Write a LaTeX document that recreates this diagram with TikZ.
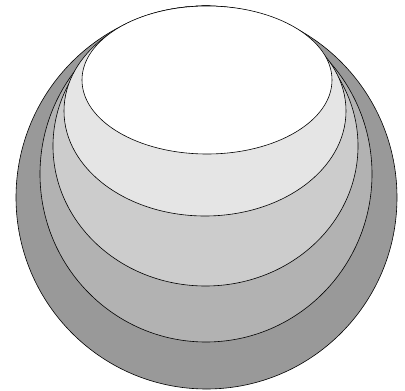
\documentclass[tikz,border=0pt]{standalone}
\usepackage{tikz}
\usetikzlibrary{calc}
\tikzset{
  shell/.style={draw=black,fill=#1,line width=0.6pt},
}

\begin{document}
\begin{tikzpicture}[x=1pt,y=-1pt]
  \useasboundingbox (0,0) rectangle (405,391);
  % nested shells, all touching at the top
  \draw[shell=black!40] (206.5,197.5) ellipse [x radius=190.5,y radius=191.5];
  \draw[shell=black!30] (206,174) ellipse [x radius=166,y radius=168];
  \draw[shell=black!20] (205.5,146) ellipse [x radius=152.5,y radius=140];
  \draw[shell=black!10] (205,111) ellipse [x radius=141,y radius=105];
  \draw[shell=white]    (207,80) ellipse [x radius=125,y radius=74];
\end{tikzpicture}
\end{document}
